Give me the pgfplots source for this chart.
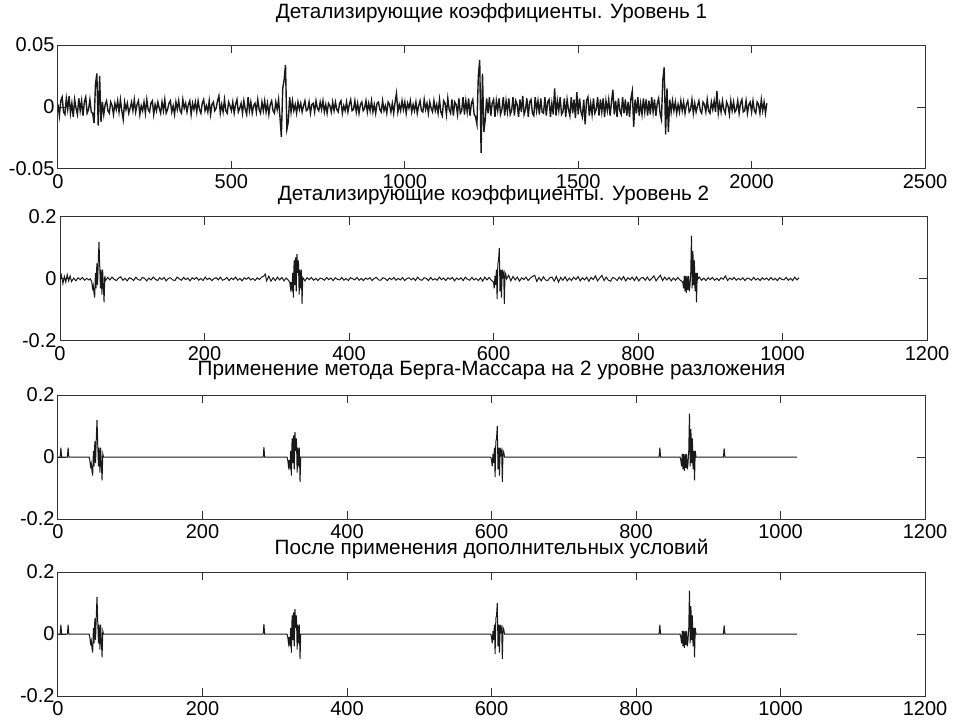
\documentclass[border=0pt]{standalone}
\usepackage{fontspec}
\setmainfont{Liberation Sans}
\usepackage{pgfplots}
\usepackage{pgfplotstable}
\pgfplotsset{compat=1.18}

% Level 1 detail coefficients (values in units of 0.001), one sample every 4
\pgfplotstableread[row sep=\\]{
y\\
2\\-7\\5\\8\\-4\\-6\\7\\-2\\9\\-5\\3\\-8\\6\\-1\\-6\\7\\-3\\5\\-7\\4\\8\\-5\\-2\\6\\-4\\
-5\\-13\\18\\27\\-15\\25\\-12\\4\\-6\\2\\5\\-3\\-5\\4\\1\\-6\\3\\-2\\5\\-4\\6\\-3\\-10\\4\\-2\\
3\\-5\\-1\\4\\-3\\6\\-4\\2\\5\\-6\\1\\-3\\4\\-5\\6\\-2\\-4\\3\\5\\-6\\2\\-3\\4\\-1\\-5\\
4\\-3\\6\\-5\\-2\\3\\5\\-4\\1\\-6\\4\\-2\\5\\-3\\-5\\6\\-1\\3\\-4\\2\\5\\-6\\3\\-2\\4\\
-4\\5\\-2\\-5\\3\\6\\-3\\1\\-4\\5\\-6\\2\\4\\-3\\-1\\5\\9\\-5\\2\\-4\\6\\-3\\-5\\4\\1\\
-3\\4\\-5\\2\\6\\-4\\-1\\3\\-5\\5\\-2\\-6\\8\\-3\\4\\-5\\1\\3\\-4\\6\\-2\\-5\\4\\-3\\5\\
-4\\3\\-6\\2\\5\\-3\\-5\\4\\-2\\6\\-8\\-24\\15\\22\\34\\-18\\-12\\8\\-4\\5\\-3\\2\\-5\\4\\-2\\
3\\-4\\1\\5\\-3\\-2\\4\\-5\\2\\3\\-4\\5\\-1\\-3\\4\\-2\\5\\-4\\2\\-5\\3\\1\\-4\\4\\-3\\
4\\-2\\-4\\3\\5\\-5\\1\\-3\\4\\-4\\2\\6\\-3\\-2\\5\\-4\\3\\-5\\2\\4\\-3\\-1\\5\\-4\\3\\
-3\\5\\-4\\2\\-5\\3\\4\\-2\\-4\\5\\-3\\1\\-5\\4\\2\\-4\\3\\-5\\4\\11\\-4\\2\\-3\\5\\-2\\
4\\-5\\3\\-1\\5\\-4\\2\\-3\\4\\-5\\1\\5\\-3\\-4\\6\\-2\\3\\-5\\4\\-1\\-4\\5\\-3\\2\\-5\\
6\\-4\\-7\\5\\3\\-6\\7\\-2\\-5\\6\\-7\\4\\2\\-6\\7\\-5\\-3\\8\\-6\\5\\-4\\7\\-7\\3\\6\\
-6\\-8\\-14\\25\\38\\-37\\27\\-20\\-10\\7\\-5\\8\\-7\\3\\6\\-8\\5\\-3\\7\\-6\\-2\\8\\-7\\5\\-4\\
7\\-6\\-3\\8\\-7\\5\\2\\-8\\6\\-4\\9\\-6\\-2\\7\\-8\\4\\6\\-5\\-7\\8\\-3\\5\\-6\\7\\-4\\
-5\\8\\-7\\4\\6\\-8\\3\\-6\\15\\-7\\5\\-3\\8\\-6\\-4\\7\\-8\\6\\-2\\-7\\8\\-5\\6\\-9\\12\\
-6\\7\\-4\\-8\\6\\-14\\5\\8\\-7\\3\\-6\\7\\-5\\-2\\8\\-7\\6\\-4\\7\\-8\\5\\-3\\6\\-7\\4\\
14\\-6\\5\\-8\\7\\-3\\-6\\8\\-5\\6\\-7\\4\\-8\\7\\13\\-16\\6\\-5\\8\\-7\\3\\-6\\7\\-4\\6\\
-7\\5\\-6\\8\\-4\\6\\-7\\3\\7\\-5\\-10\\22\\32\\-22\\15\\-20\\6\\-4\\5\\-3\\4\\-5\\2\\-4\\5\\
-3\\4\\-5\\2\\5\\-4\\-2\\6\\-5\\3\\-4\\1\\5\\-3\\-5\\4\\2\\-4\\6\\-3\\-5\\4\\-2\\5\\-4\\
13\\-5\\3\\-4\\5\\-2\\-5\\4\\1\\-6\\5\\-3\\4\\-4\\-2\\5\\-5\\3\\6\\-4\\-3\\5\\-5\\2\\4\\
-4\\5\\-3\\-5\\4\\2\\-5\\6\\-3\\4\\-5\\3\\
}\levelone

% Level 2 detail coefficients (units of 0.001)
\pgfplotstableread[row sep=\\]{
x y\\
0 -5\\2 12\\4 -15\\6 8\\8 -10\\10 14\\12 -6\\14 10\\16 -8\\19 3\\22 -6\\25 4\\28 -2\\31 5\\34 -4\\37 2\\40 -3\\42 1\\
44 -10\\45 -30\\46 -20\\47 -45\\48 -60\\49 20\\50 -30\\51 50\\52 -20\\53 60\\54 120\\55 40\\56 -30\\57 30\\58 -50\\59 30\\60 -20\\61 -75\\62 10\\63 -5\\
66 5\\69 -3\\72 6\\75 -1\\78 -5\\81 3\\84 7\\87 -4\\90 2\\93 -6\\96 4\\99 1\\102 -5\\105 6\\108 -2\\111 -4\\114 5\\117 2\\120 -6\\123 3\\
126 -3\\129 6\\132 -1\\135 -5\\138 4\\141 -2\\144 5\\147 -6\\150 2\\153 4\\156 -3\\159 -5\\162 6\\165 1\\168 -4\\171 5\\174 -2\\177 3\\180 -6\\183 4\\
186 -1\\189 5\\192 -4\\195 2\\198 -5\\201 6\\204 -2\\207 3\\210 -5\\213 1\\216 4\\219 -3\\222 6\\225 -4\\228 -1\\231 5\\234 -5\\237 3\\240 -2\\243 6\\
246 -4\\249 2\\252 -6\\255 4\\258 -1\\261 5\\264 -3\\267 2\\270 -5\\273 4\\276 -2\\279 6\\282 9\\284 16\\286 -6\\289 9\\292 -7\\295 4\\298 -5\\301 6\\
304 -3\\307 5\\310 -6\\313 3\\316 -4\\
318 -10\\319 -30\\320 -10\\321 -40\\322 20\\323 -60\\324 60\\325 -20\\326 70\\327 -40\\328 80\\329 20\\330 60\\331 -50\\332 30\\333 -30\\334 30\\335 -80\\336 5\\
339 -6\\342 4\\345 -2\\348 5\\351 -4\\354 2\\357 -5\\360 3\\363 1\\366 -4\\369 5\\372 -2\\375 3\\378 -5\\381 4\\384 -1\\387 -3\\390 5\\393 -4\\396 2\\
399 -5\\402 4\\405 1\\408 -3\\411 5\\414 -4\\417 2\\420 -5\\423 3\\426 -1\\429 4\\432 -5\\435 2\\438 5\\441 -3\\444 -4\\447 4\\450 1\\453 -5\\456 3\\
459 -2\\462 5\\465 -4\\468 2\\471 -3\\474 5\\477 -5\\480 1\\483 4\\486 -3\\489 3\\492 -5\\495 6\\498 -2\\501 -4\\504 4\\507 2\\510 -5\\513 5\\516 -3\\
519 1\\522 -4\\525 6\\528 -2\\531 3\\534 -5\\537 4\\540 -1\\543 5\\546 -6\\549 3\\552 -2\\555 4\\558 -5\\561 6\\564 -1\\567 -4\\570 5\\573 -3\\576 2\\
579 -5\\582 4\\585 -7\\588 6\\591 -3\\594 5\\597 -4\\
600 -10\\601 -30\\602 10\\603 -20\\604 30\\605 -65\\606 50\\607 60\\608 100\\609 -40\\610 30\\611 -60\\612 30\\613 10\\614 20\\615 -80\\616 20\\617 15\\618 0\\
621 12\\624 -6\\627 8\\630 -3\\633 6\\636 -7\\639 4\\642 -2\\645 6\\648 -5\\651 3\\654 8\\657 12\\660 -8\\663 5\\666 -6\\669 7\\672 -3\\675 -5\\678 4\\
681 6\\684 -7\\687 8\\690 -10\\693 5\\696 -4\\699 7\\702 -6\\705 3\\708 -5\\711 6\\714 -2\\717 8\\720 -6\\723 4\\726 -3\\729 6\\732 -7\\735 5\\738 -2\\
741 10\\744 -6\\747 3\\750 12\\753 -5\\756 6\\759 -4\\762 -7\\765 5\\768 2\\771 -5\\774 6\\777 -3\\780 8\\783 -6\\786 4\\789 -2\\792 6\\795 -5\\798 7\\
801 -6\\804 3\\807 5\\810 -4\\813 6\\816 -5\\819 2\\822 10\\825 -6\\828 4\\831 12\\834 -5\\837 6\\840 -3\\843 5\\846 -6\\849 3\\852 -4\\855 5\\858 -3\\
862 -10\\863 -30\\864 10\\865 -40\\866 10\\867 -45\\868 10\\869 -35\\870 10\\871 -40\\872 -20\\873 20\\874 140\\875 -30\\876 90\\877 -20\\878 60\\879 -40\\880 20\\881 -75\\882 20\\883 0\\
885 6\\888 -4\\891 3\\894 -5\\897 4\\900 -2\\903 5\\906 -4\\909 2\\912 -5\\915 4\\918 -1\\921 10\\924 -5\\927 3\\930 -2\\933 5\\936 -4\\939 2\\942 -3\\
945 4\\948 -5\\951 3\\954 1\\957 -4\\960 5\\963 -3\\966 2\\969 -5\\972 4\\975 -2\\978 3\\981 -4\\984 5\\987 -3\\990 2\\993 -5\\996 4\\999 -1\\1002 -3\\
1005 5\\1008 -4\\1011 2\\1014 -5\\1017 6\\1020 -3\\1023 4\\
}\leveltwo

% After Berg-Massart thresholding (units of 0.001)
\pgfplotstableread[row sep=\\]{
x y\\
0 0\\3 0\\4 30\\5 0\\13 0\\14 30\\15 0\\43 0\\
44 -10\\45 -30\\46 -20\\47 -45\\48 -60\\49 20\\50 -30\\51 50\\52 -20\\53 60\\54 120\\55 40\\56 -30\\57 30\\58 -50\\59 30\\60 -20\\61 -75\\62 10\\63 0\\
284 0\\285 32\\286 0\\317 0\\
318 -10\\319 -30\\320 -10\\321 -40\\322 20\\323 -60\\324 60\\325 -20\\326 70\\327 -40\\328 80\\329 20\\330 60\\331 -50\\332 30\\333 -30\\334 30\\335 -80\\336 0\\
599 0\\600 -10\\601 -30\\602 10\\603 -20\\604 30\\605 -65\\606 50\\607 60\\608 100\\609 -40\\610 30\\611 -60\\612 30\\613 10\\614 20\\615 -80\\616 20\\617 15\\618 0\\
832 0\\833 30\\834 0\\861 0\\
862 -10\\863 -30\\864 10\\865 -40\\866 10\\867 -45\\868 10\\869 -35\\870 10\\871 -40\\872 -20\\873 20\\874 140\\875 -30\\876 90\\877 -20\\878 60\\879 -40\\880 20\\881 -75\\882 20\\883 0\\
921 0\\922 28\\923 0\\1023 0\\
}\thresholded

\pgfplotsset{
  panel/.style={
    scale only axis,
    width=867pt, height=124pt,
    anchor=south west,
    axis line style={draw=black!80, line width=1pt},
    tick style={draw=black!80, line width=1pt},
    tick align=inside,
    major tick length=8pt,
    tick label style={font=\fontsize{20}{22}\selectfont, text=black},
    title style={font=\fontsize{20.7}{23}\selectfont, anchor=base, at={(0.5,1)}},
    /pgf/number format/assume math mode=true,
    /pgf/number format/set thousands separator={},
    xmin=0, ymin=-200, ymax=200,
    ytick={-200,0,200},
    yticklabels={-0.2,0,0.2},
    xticklabel style={yshift=-2pt},
  },
  sig/.style={black!90, line width=1pt, mark=none},
}

\begin{document}
\begin{tikzpicture}
\useasboundingbox (0,0) rectangle (953pt,724pt);

\begin{axis}[panel, at={(58pt,555pt)},
  xmax=2500, xtick={0,500,...,2500},
  ymin=-50, ymax=50, ytick={-50,0,50}, yticklabels={-0.05,0,0.05},
  title={Детализирующие коэффициенты. Уровень 1},
  title style={yshift=21pt}]
  \addplot[sig, line width=1.4pt] table[x expr=\coordindex*4, y=y] {\levelone};
\end{axis}

\begin{axis}[panel, at={(60pt,383pt)},
  xmax=1200, xtick={0,200,...,1200},
  title={Детализирующие коэффициенты. Уровень 2},
  title style={yshift=10pt}]
  \addplot[sig] table[x=x, y=y] {\leveltwo};
\end{axis}

\begin{axis}[panel, at={(58pt,205pt)},
  xmax=1200, xtick={0,200,...,1200},
  title={Применение метода Берга-Массара на 2 уровне разложения},
  title style={yshift=14pt}]
  \addplot[sig] table[x=x, y=y] {\thresholded};
\end{axis}

\begin{axis}[panel, at={(58pt,28pt)},
  xmax=1200, xtick={0,200,...,1200},
  title={После применения дополнительных условий},
  title style={yshift=12pt}]
  \addplot[sig] table[x=x, y=y] {\thresholded};
\end{axis}
\end{tikzpicture}
\end{document}
